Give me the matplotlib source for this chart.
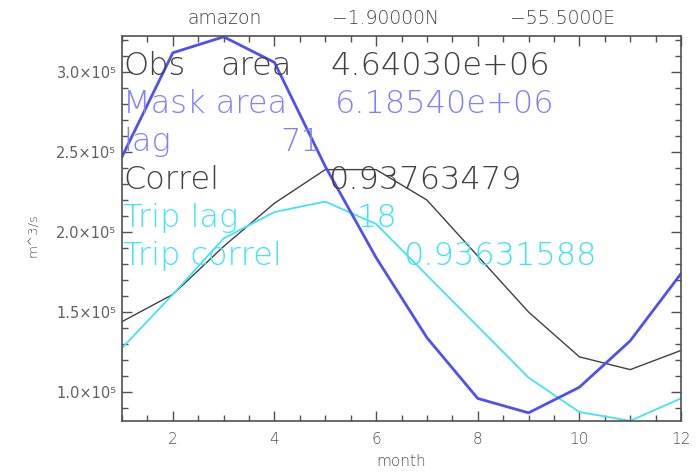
import matplotlib
matplotlib.use("Agg")
import matplotlib.pyplot as plt
from matplotlib.ticker import MultipleLocator, FuncFormatter
import numpy as np

months = [1, 2, 3, 4, 5, 6, 7, 8, 9, 10, 11, 12]
# values in units of 1e5 m^3/s
mask_flow = [2.47, 3.12, 3.22, 3.06, 2.41, 1.84, 1.34, 0.96, 0.87, 1.03, 1.32, 1.74]
obs_flow = [1.44, 1.61, 1.91, 2.18, 2.39, 2.39, 2.20, 1.85, 1.50, 1.22, 1.14, 1.26]
trip_flow = [1.275, 1.61, 1.96, 2.125, 2.19, 2.05, 1.73, 1.41, 1.09, 0.875, 0.82, 0.96]
scale = 1e5

title_parts = ["amazon", "\u22121.90000N", "\u221255.5000E"]
info_rows = [
    (["Obs", "area", "4.64030e+06"], "#404040"),
    (["Mask area", "6.18540e+06"], "#8080ff"),
    (["lag", "71"], "#8080ff"),
    (["Correl", "0.93763479"], "#404040"),
    (["Trip lag", "18"], "#40e4f4"),
    (["Trip correl", "0.93631588"], "#40e4f4"),
]
# x pixel positions of text pieces
info_x = [[123, 220, 330], [123, 335], [123, 280], [123, 328], [123, 357], [123, 403]]

W, H = 700, 472
fig = plt.figure(figsize=(7.0, 4.72), dpi=100)
L, R, T, B = 122, 681, 36, 421
ax = fig.add_axes([L / W, 1 - B / H, (R - L) / W, (B - T) / H])

m = np.array(months)
ax.plot(m, np.array(obs_flow) * scale, color="#404040", lw=1.0)
ax.plot(m, np.array(trip_flow) * scale, color="#40e4f4", lw=1.3)
ax.plot(m, np.array(mask_flow) * scale, color="#5050f0", lw=2.0)

allv = np.concatenate([mask_flow, obs_flow, trip_flow]) * scale
ax.set_xlim(1, 12)
ax.set_ylim(allv.min() - 0.001e5, allv.max() + 0.005e5)

ax.xaxis.set_major_locator(MultipleLocator(2))
ax.xaxis.set_minor_locator(MultipleLocator(0.5))
ax.yaxis.set_major_locator(MultipleLocator(0.5e5))
ax.yaxis.set_minor_locator(MultipleLocator(0.1e5))


def yfmt(v, pos):
    return "%.1f\u00d710\u2075" % (v / 1e5)


ax.yaxis.set_major_formatter(FuncFormatter(yfmt))
tc = "#505050"
ax.tick_params(which="both", direction="in", top=True, right=True, color=tc, width=1.0)
ax.tick_params(which="major", length=7)
ax.tick_params(which="minor", length=4)
ax.tick_params(axis="x", which="major", pad=8, labelsize=11, labelcolor=tc)
ax.tick_params(axis="y", which="major", pad=4, labelsize=10.5, labelcolor="#606060")
for lab in ax.get_xticklabels():
    lab.set_fontweight("light")
for s in ax.spines.values():
    s.set_color(tc)
    s.set_linewidth(1.2)

fig.text(401.5 / W, 1 - 462 / H, "month", ha="center", va="center", fontsize=11,
         color=tc, fontweight="light")
fig.text(33 / W, 1 - 235 / H, "m^3/s", ha="center", va="center", rotation=90,
         fontsize=9.5, color=tc, fontweight="light")

for txt, cx in zip(title_parts, [225, 385, 562]):
    fig.text(cx / W, 1 - 18 / H, txt, ha="center", va="center", fontsize=13.5,
             color="#404040", fontweight="light")

baselines = [75, 113, 151, 189, 227, 265]
for (parts, col), xs, yb in zip(info_rows, info_x, baselines):
    for p, xp in zip(parts, xs):
        fig.text(xp / W, 1 - yb / H, p, ha="left", va="baseline", fontsize=23,
                 color=col, fontweight="light")

fig.savefig("out.png", dpi=100)
